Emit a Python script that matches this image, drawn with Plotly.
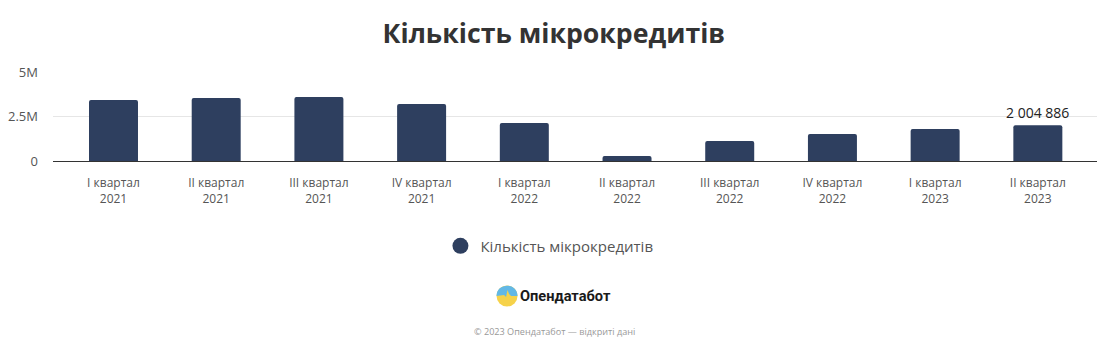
import plotly.graph_objects as go

categories = ["I квартал<br>2021", "II квартал<br>2021", "III квартал<br>2021", "IV квартал<br>2021",
              "I квартал<br>2022", "II квартал<br>2022", "III квартал<br>2022", "IV квартал<br>2022",
              "I квартал<br>2023", "II квартал<br>2023"]
values = [3430000, 3540000, 3600000, 3200000, 2130000, 280000, 1120000, 1520000, 1800000, 2004886]
tick_vals = [0, 2500000, 5000000]
tick_text = ["0", "2.5M", "5M"]
series_name = "Кількість мікрокредитів"
last_label = "2 004 886"

NAVY = "#2e3f5f"
FONT = "Open Sans, sans-serif"

fig = go.Figure()
fig.add_trace(go.Bar(x=categories, y=values, marker=dict(color=NAVY, line_width=0),
                     width=0.477, showlegend=False))
fig.add_trace(go.Scatter(x=[None], y=[None], mode="markers", name=series_name,
                         marker=dict(color=NAVY, size=16, symbol="circle")))

fig.update_layout(
    width=1105, height=345, autosize=False,
    margin=dict(l=45, r=16, t=64, b=192),
    paper_bgcolor="white", plot_bgcolor="white",
    barcornerradius=2,
    font=dict(family=FONT, color="#444444"),
    title=dict(text="<b>Кількість мікрокредитів</b>", x=0.494, xanchor="center", y=0.925, yanchor="middle",
               font=dict(size=26.7, color="#333333", family=FONT)),
    legend=dict(orientation="h", x=0.4755, xanchor="center", y=0.310, yanchor="middle",
                yref="container", font=dict(size=15, color="#555555"), itemwidth=30),
    xaxis=dict(type="category", range=[-0.589, 9.576], automargin=False, showgrid=False, ticks="", showline=True,
               linecolor="#333333", linewidth=1,
               tickfont=dict(size=12, color="#555555"), tickangle=0, ticklabelstandoff=11),
    yaxis=dict(range=[0, 5000000], automargin=False, tickvals=tick_vals, ticktext=tick_text, showgrid=True,
               gridcolor="#e6e6e6", gridwidth=1, zeroline=False, ticks="", ticklabelstandoff=14,
               tickfont=dict(size=13, color="#555555")),
    annotations=[
        dict(x=categories[-1], y=values[-1], xref="x", yref="y", text=last_label, showarrow=False,
             yshift=13, font=dict(size=14, color="#222222")),
        dict(x=0.4458, y=-1.517, xref="paper", yref="paper", text="<b>Опендатабот</b>", showarrow=False,
             xanchor="left", yanchor="middle", font=dict(size=14.6, color="#1a1a1a", family="Roboto, sans-serif")),
        dict(x=0.4799, y=-1.92, xref="paper", yref="paper", text="© 2023 Опендатабот — відкриті дані",
             showarrow=False, xanchor="center", yanchor="middle", font=dict(size=9.1, color="#999999")),
    ],
)

# logo: a yellow disc with a blue upper part, pixel-sized shapes anchored on the page
fig.add_shape(type="circle", xref="paper", yref="paper", xsizemode="pixel", ysizemode="pixel",
              xanchor=0.4349, yanchor=-1.517, x0=-10.5, x1=10.5, y0=-10.5, y1=10.5,
              fillcolor="#f6d24a", line_width=0)
fig.add_shape(type="path", xref="paper", yref="paper", xsizemode="pixel", ysizemode="pixel",
              xanchor=0.4349, yanchor=-1.517,
              path="M -10.5 0 C -10.5 13.8 10.5 13.8 10.5 0 L 4 0 L 2 2 L 0.5 6 L -1 -1 L -3 1 Z",
              fillcolor="#62b8e6", line_width=0)

fig.write_html("out.html")
